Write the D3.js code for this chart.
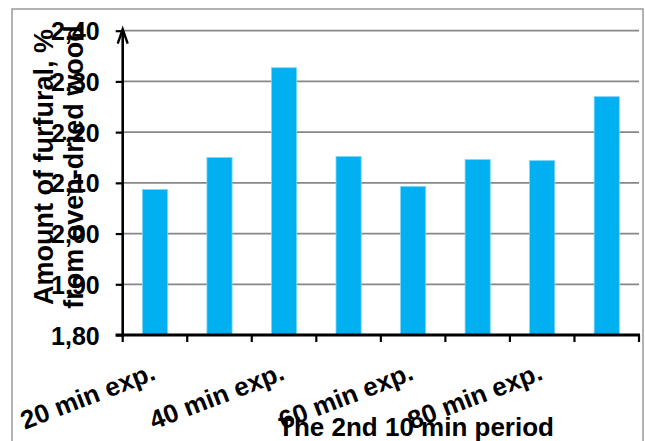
<!DOCTYPE html>
<html>
<head>
<meta charset="utf-8">
<script src="https://cdn.jsdelivr.net/npm/d3@7"></script>
<style>
  html, body { margin: 0; padding: 0; background: #fff; }
  svg { display: block; }
  text { font-family: "Liberation Sans", Arial, sans-serif; font-weight: bold; fill: #000; }
</style>
</head>
<body>
<script>
// ---- data ----
const categories = ["20 min exp.", "20 min exp. (2nd)", "40 min exp.", "40 min exp. (2nd)",
                    "60 min exp.", "60 min exp. (2nd)", "80 min exp.", "80 min exp. (2nd)"];
const categoryLabels = ["20 min exp.", "", "40 min exp.", "", "60 min exp.", "", "80 min exp.", ""];
const values = [2.087, 2.150, 2.327, 2.152, 2.093, 2.146, 2.144, 2.270];
const yTicks = [1.8, 1.9, 2.0, 2.1, 2.2, 2.3, 2.4];
const yTitleLines = ["Amount of furfural, %", "from oven-dried wood"];
const xTitle = "The 2nd 10 min period";

// ---- layout ----
const W = 645, H = 441;
const plot = { left: 122.7, right: 639, top: 30.7, bottom: 335 };

const svg = d3.select("body").append("svg").attr("width", W).attr("height", H);

// outer frame
svg.append("rect").attr("x", 12).attr("y", 9).attr("width", 631).attr("height", 440)
  .attr("fill", "#fff").attr("stroke", "#999").attr("stroke-width", 1.5);

const x = d3.scaleBand().domain(categories).range([plot.left, plot.right]).padding(0);
const y = d3.scaleLinear().domain([1.8, 2.4]).range([plot.bottom, plot.top]);

const fmt = d => d3.format(".2f")(d).replace(".", ",");

// gridlines
svg.append("g").selectAll("line").data(yTicks.filter(t => t > 1.8)).join("line")
  .attr("x1", plot.left).attr("x2", plot.right)
  .attr("y1", d => y(d)).attr("y2", d => y(d))
  .attr("stroke", "#878787").attr("stroke-width", 1.8);

// bars
const barFrac = 0.39;
svg.append("g").selectAll("rect").data(values).join("rect")
  .attr("x", (d, i) => x(categories[i]) + x.bandwidth() * (1 - barFrac) / 2)
  .attr("width", x.bandwidth() * barFrac)
  .attr("y", d => y(d))
  .attr("height", d => y(1.8) - y(d))
  .attr("fill", "#00B0F0")
  .attr("stroke", "#7fd6f6").attr("stroke-width", 0.8);

// y axis
const yAxis = d3.axisLeft(y).tickValues(yTicks).tickFormat(fmt).tickSize(7).tickPadding(16);
const gy = svg.append("g").attr("transform", `translate(${plot.left},0)`).call(yAxis);
gy.select(".domain").remove();
gy.selectAll(".tick line").attr("stroke", "#000").attr("stroke-width", 2.2);
gy.selectAll(".tick text").attr("font-size", 25).attr("dy", "0.36em")
  .style("font-family", "'Liberation Sans', Arial, sans-serif").style("font-weight", "bold");

// y axis line with arrow
svg.append("line").attr("x1", plot.left).attr("x2", plot.left)
  .attr("y1", y(1.8) + 1.5).attr("y2", y(2.4) - 1.5)
  .attr("stroke", "#000").attr("stroke-width", 2.6);
svg.append("path")
  .attr("d", `M${plot.left - 5},${y(2.4) + 13} L${plot.left},${y(2.4) - 1.5} L${plot.left + 5},${y(2.4) + 13}`)
  .attr("fill", "none").attr("stroke", "#000").attr("stroke-width", 2.4);

// x axis
const xAxis = d3.axisBottom(x).tickValues([]).tickSizeOuter(0);
const gx = svg.append("g").attr("transform", `translate(0,${plot.bottom})`).call(xAxis);
gx.select(".domain").remove();
svg.append("line").attr("x1", plot.left - 7).attr("x2", plot.right + 1)
  .attr("y1", plot.bottom).attr("y2", plot.bottom)
  .attr("stroke", "#000").attr("stroke-width", 3);
const boundaries = categories.map(c => x(c)).concat([x(categories[categories.length - 1]) + x.bandwidth()]);
svg.append("g").selectAll("line").data(boundaries).join("line")
  .attr("x1", d => d).attr("x2", d => d)
  .attr("y1", plot.bottom).attr("y2", plot.bottom + 7)
  .attr("stroke", "#000").attr("stroke-width", 2.2);

// category labels (rotated)
svg.append("g").selectAll("text").data(categories.filter((c, i) => categoryLabels[i] !== "")).join("text")
  .attr("transform", d => `translate(${x(d) + x.bandwidth() / 2 + 2},${379}) rotate(-21)`)
  .attr("text-anchor", "end")
  .attr("font-size", 26)
  .text(d => categoryLabels[categories.indexOf(d)]);

// x title
svg.append("text").attr("x", 416).attr("y", 436).attr("text-anchor", "middle")
  .attr("font-size", 26).text(xTitle);

// y title (two lines)
svg.append("g").selectAll("text").data(yTitleLines).join("text")
  .attr("transform", (d, i) => `translate(${53 + i * 30},167) rotate(-90)`)
  .attr("text-anchor", "middle")
  .attr("font-size", 27)
  .text(d => d);
</script>
</body>
</html>
